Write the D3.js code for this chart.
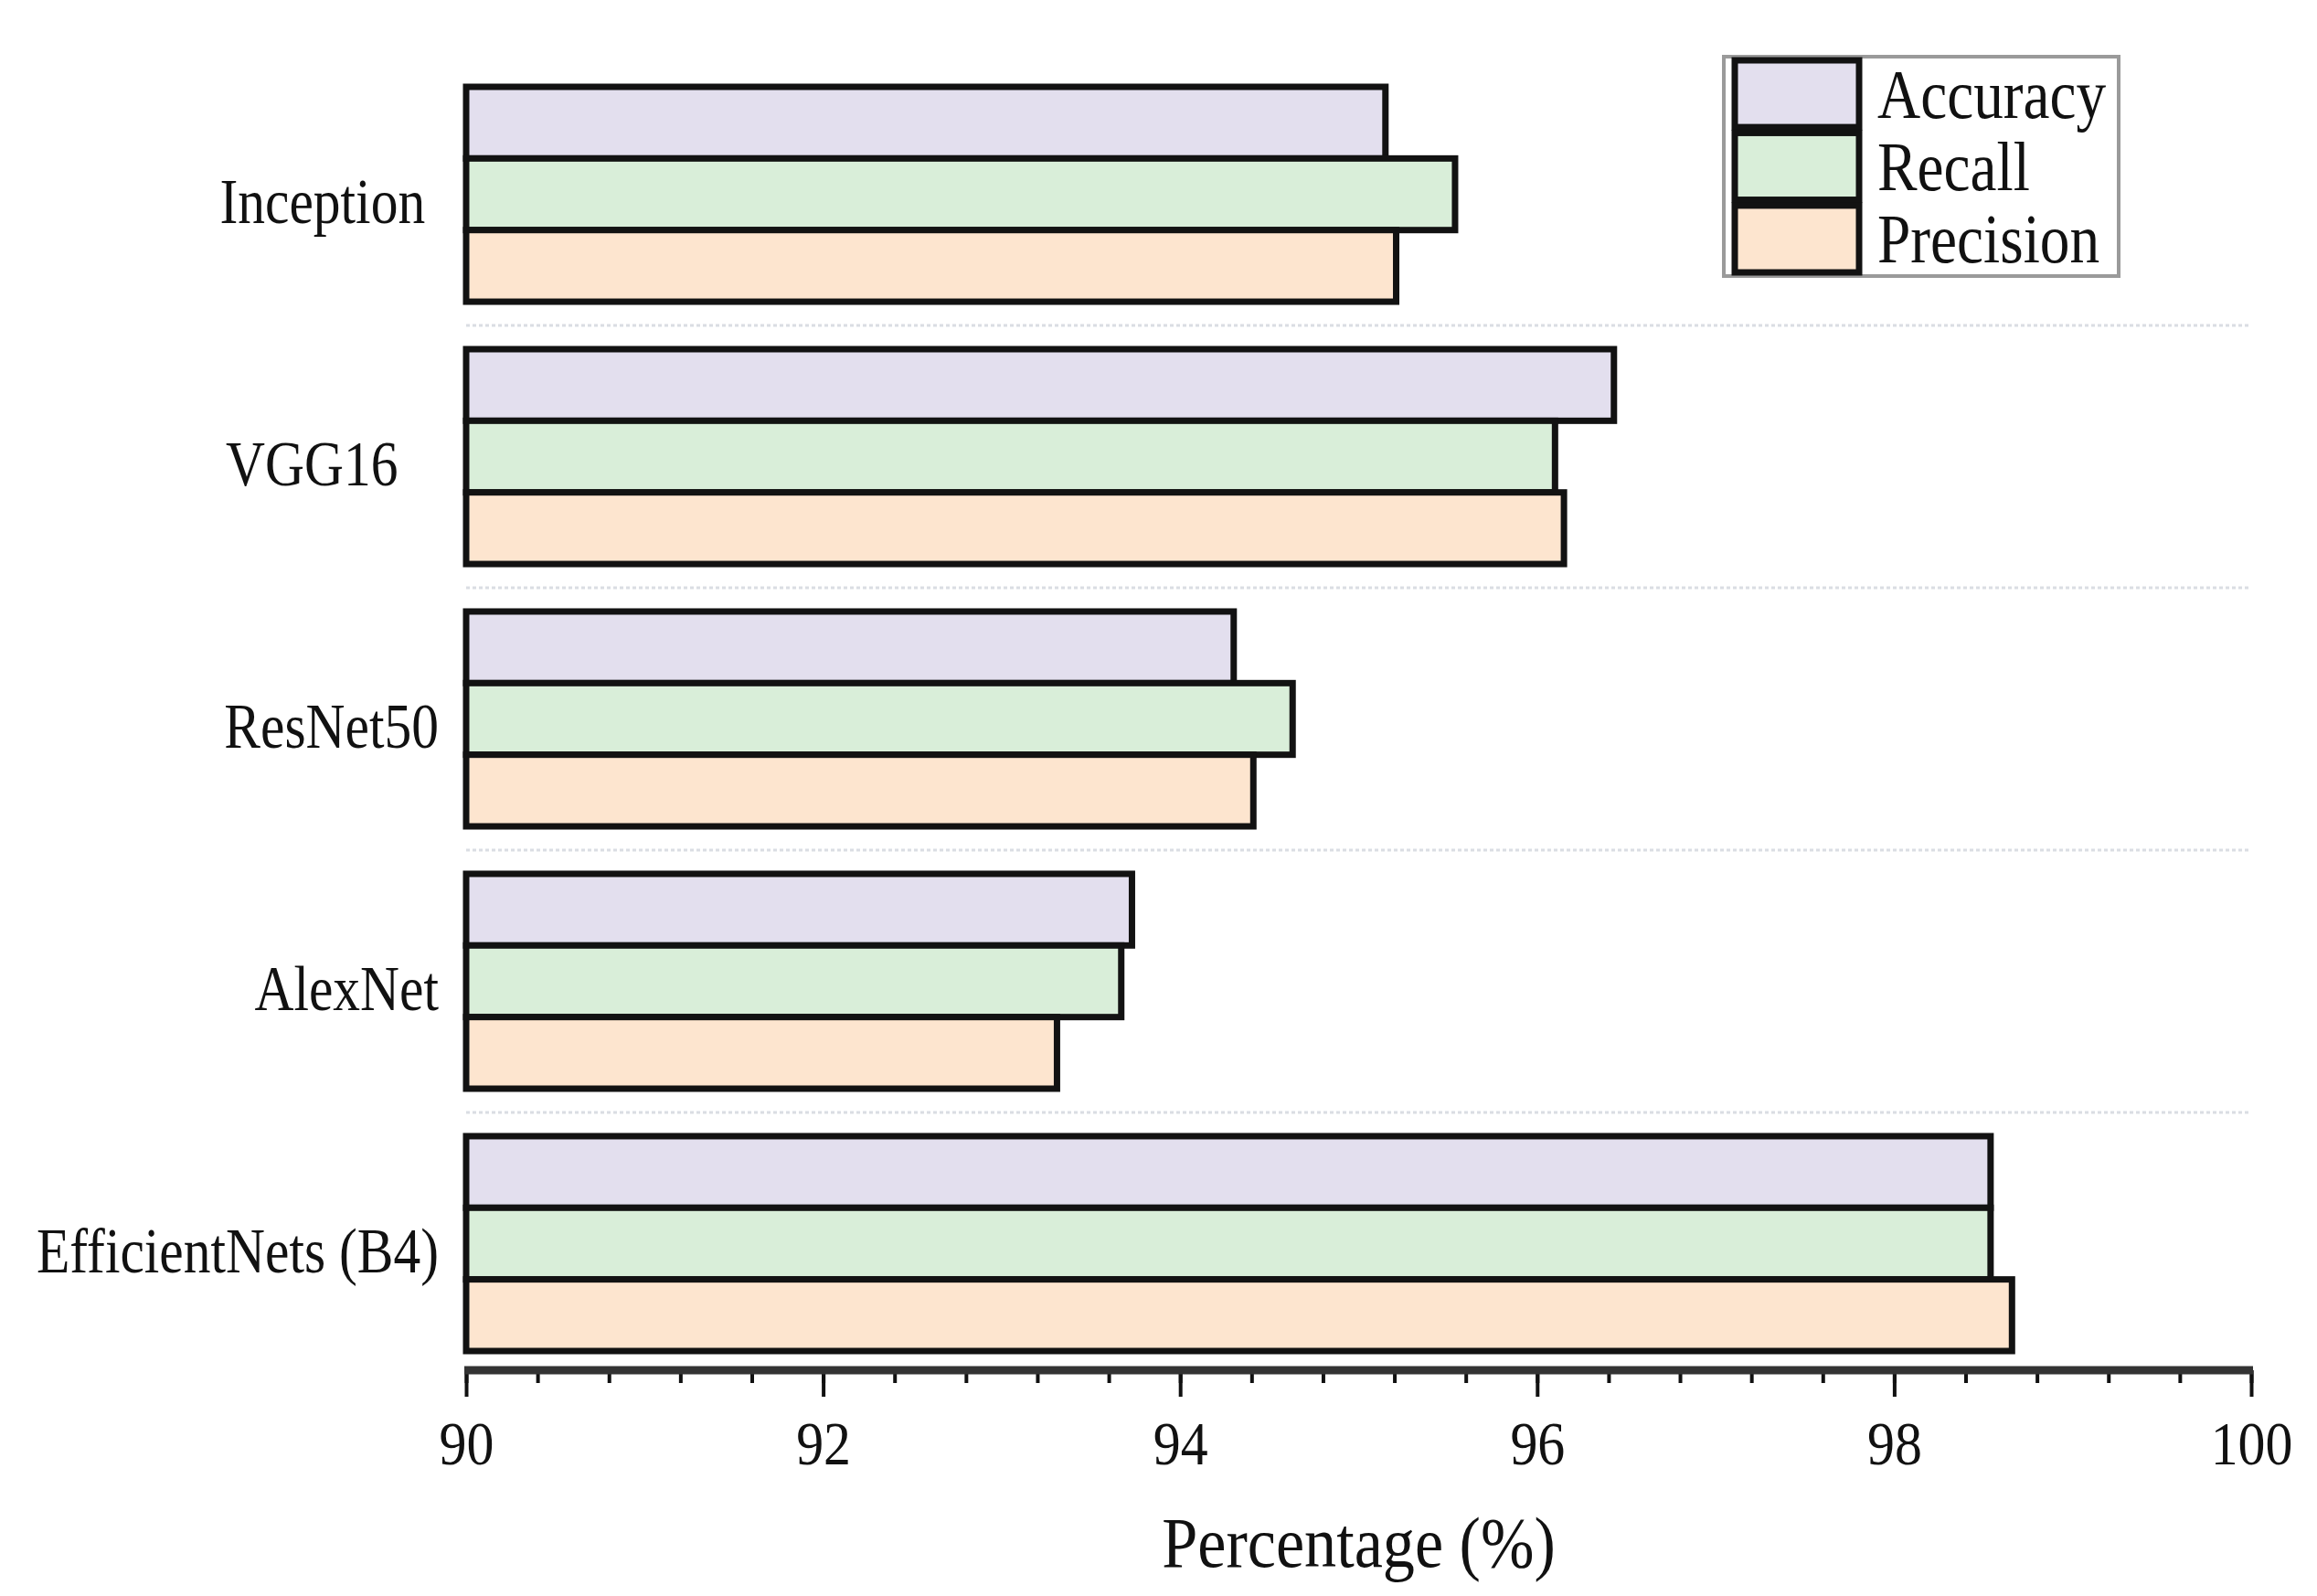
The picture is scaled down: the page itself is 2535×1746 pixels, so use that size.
<html>
  <head>
    <script src="https://cdn.jsdelivr.net/npm/d3@7"></script>
    <style>
      body { margin: 0; background: #fff; }
      text { font-family: "Liberation Serif", "Times New Roman", serif; fill: #111; }
    </style>
  </head>
  <body>
    <div id="container"></div>
    <script>
      // data
      const models = ["Inception\u00a0", "VGG16\u00a0\u00a0\u00a0", "ResNet50", "AlexNet", "EfficientNets (B4)"];
      const metrics = ["Accuracy", "Recall", "Precision"];
      const accuracy = [95.15, 96.43, 94.30, 93.73, 98.54];
      const recall = [95.54, 96.10, 94.63, 93.67, 98.54];
      const precision = [95.21, 96.15, 94.41, 93.31, 98.66];
      const xTicks = [90, 92, 94, 96, 98, 100];

      const colors = [
        "#E3DFEE", // lavender
        "#D9EED9", // pale green
        "#FDE5CF", // peach
      ];

      const w = 2535;
      const h = 1746;
      const plotLeft = 510;
      const plotRight = 2463;
      const plotTop = 95;
      const plotBottom = 1478;
      const axisY = 1499;

      const series = [accuracy, recall, precision];
      const rows = models.map((m, i) => ({
        model: m,
        values: metrics.map((k, j) => ({ key: k, value: series[j][i] })),
      }));

      const svg = d3
        .select("#container")
        .append("svg")
        .attr("width", w)
        .attr("height", h);

      const x = d3.scaleLinear().domain([90, 100]).range([plotLeft, plotRight]);
      const y = d3.scaleBand().domain(models).range([plotTop, plotBottom]).paddingInner(0.181).paddingOuter(0);
      const yInner = d3.scaleBand().domain(metrics).range([0, y.bandwidth()]);
      const color = d3.scaleOrdinal().domain(metrics).range(colors);

      // dotted separators between groups
      svg
        .selectAll("line.sep")
        .data(models.slice(1))
        .enter()
        .append("line")
        .attr("class", "sep")
        .attr("x1", x(90))
        .attr("x2", x(100))
        .attr("y1", (d) => y(d) - (y.step() - y.bandwidth()) / 2)
        .attr("y2", (d) => y(d) - (y.step() - y.bandwidth()) / 2)
        .attr("stroke", "#dadde3")
        .attr("stroke-width", 3)
        .attr("stroke-dasharray", "4,3");

      const group = svg
        .selectAll("g.group")
        .data(rows)
        .enter()
        .append("g")
        .attr("class", "group")
        .attr("transform", (d) => `translate(0,${y(d.model)})`);

      group
        .selectAll("rect")
        .data((d) => d.values)
        .enter()
        .append("rect")
        .attr("x", x(90))
        .attr("y", (d) => yInner(d.key))
        .attr("width", (d) => x(d.value) - x(90))
        .attr("height", yInner.bandwidth())
        .attr("fill", (d) => color(d.key))
        .attr("stroke", "#121212")
        .attr("stroke-width", 7);

      // x axis: minor ticks, then major ticks with labels
      const xMinor = svg.append("g").attr("transform", `translate(0,${axisY})`);
      xMinor
        .call(
          d3.axisBottom(x)
            .tickValues(d3.range(90, 100.001, 0.4))
            .tickSize(14)
            .tickFormat("")
        )
        .call((g) => g.select(".domain").remove())
        .call((g) => g.selectAll(".tick line").attr("stroke", "#111").attr("stroke-width", 4));

      const xMajor = svg.append("g").attr("transform", `translate(0,${axisY})`);
      xMajor
        .call(d3.axisBottom(x).tickValues(xTicks).tickSize(29).tickPadding(26))
        .call((g) => g.select(".domain").remove())
        .call((g) => g.selectAll(".tick line").attr("stroke", "#111").attr("stroke-width", 4))
        .call((g) =>
          g.selectAll(".tick text")
            .attr("font-size", 68)
            .attr("fill", "#111")
            .attr("transform", "scale(0.88,1)")
        );

      svg
        .append("line")
        .attr("x1", x(90) - 2)
        .attr("x2", x(100) + 2)
        .attr("y1", axisY)
        .attr("y2", axisY)
        .attr("stroke", "#333")
        .attr("stroke-width", 9);

      // y labels
      const yAxis = svg.append("g").attr("transform", `translate(${plotLeft},0)`);
      yAxis
        .call(d3.axisLeft(y).tickSize(0).tickPadding(30))
        .call((g) => g.select(".domain").remove())
        .call((g) =>
          g.selectAll(".tick text")
            .attr("font-size", 70)
            .attr("fill", "#111")
            .attr("x", -30 / 0.85)
            .attr("dy", "0.45em")
            .attr("transform", "scale(0.85,1)")
        );

      svg
        .append("text")
        .attr("x", 0)
        .attr("y", 0)
        .attr("text-anchor", "middle")
        .attr("font-size", 78)
        .attr("transform", `translate(${(plotLeft + plotRight) / 2},1714) scale(0.9,1)`)
        .text("Percentage (%)");

      // legend
      const lg = svg.append("g").attr("transform", "translate(1886,62)");
      lg.append("rect")
        .attr("width", 432)
        .attr("height", 240)
        .attr("fill", "#fff")
        .attr("stroke", "#9a9a9a")
        .attr("stroke-width", 4);

      const ly = d3.scaleBand().domain(metrics).range([4, 236]).paddingInner(0.08);
      const item = lg
        .selectAll("g.item")
        .data(metrics)
        .enter()
        .append("g")
        .attr("class", "item")
        .attr("transform", (d) => `translate(0,${ly(d)})`);

      item
        .append("rect")
        .attr("x", 12)
        .attr("width", 136)
        .attr("height", ly.bandwidth())
        .attr("fill", (d) => color(d))
        .attr("stroke", "#121212")
        .attr("stroke-width", 7);

      item
        .append("text")
        .attr("x", 0)
        .attr("y", 0)
        .attr("font-size", 76)
        .attr("transform", `translate(168,${ly.bandwidth() / 2 + 26}) scale(0.86,1)`)
        .text((d) => d);
    </script>
  </body>
</html>
